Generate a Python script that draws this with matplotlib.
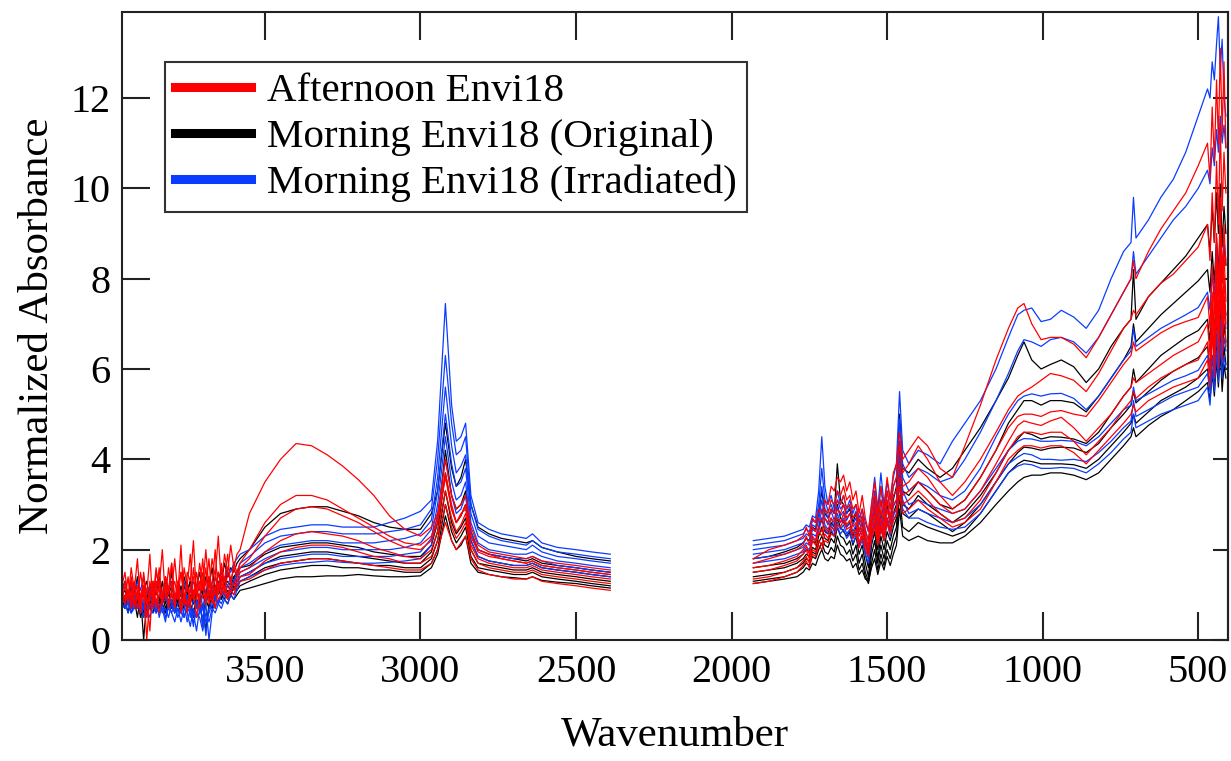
import matplotlib
matplotlib.use("Agg")
import matplotlib.pyplot as plt
from matplotlib.lines import Line2D

plt.rcParams["font.family"] = ["Liberation Serif", "DejaVu Serif"]

# sampled wavenumbers of the two windows (high range, then fingerprint range)
wn_hi = [3960, 3950, 3940, 3930, 3920, 3910, 3900, 3890, 3880, 3870,
         3860, 3850, 3840, 3830, 3820, 3810, 3800, 3790, 3780, 3770,
         3760, 3750, 3740, 3730, 3720, 3710, 3700, 3690, 3680, 3670,
         3660, 3650, 3640, 3630, 3620, 3610, 3600, 3590, 3580,
         3550, 3500, 3450, 3400, 3350, 3300, 3250, 3200, 3150, 3100,
         3050, 3000, 2965, 2945, 2920, 2900, 2885, 2870, 2855, 2838,
         2815, 2780, 2740, 2700, 2660, 2640, 2610, 2560, 2500, 2450, 2390]
wn_lo = [1930, 1880, 1830, 1790,
         1770, 1760, 1750, 1740, 1730, 1720, 1710, 1700, 1690, 1680,
         1670, 1660, 1650, 1640, 1630, 1620, 1610, 1600, 1590, 1580,
         1570, 1560, 1550, 1540, 1530, 1520, 1510, 1500, 1490, 1480,
         1470, 1460,
         1450, 1430, 1400, 1370, 1330, 1290, 1250, 1200, 1150, 1110,
         1080, 1060, 1035, 1005, 975, 940, 900, 860, 820, 780,
         740, 716, 708, 700, 660, 620, 580, 540, 500,
         470, 462, 455, 448, 441, 435, 429, 423, 417, 411]

# Afternoon Envi18
afternoon_hi = [
    [1.2, 1.5, 0.9, 1.6, 1.1, 1.8, 0.8, 1.4, 1.0, 1.9, 0.7, 1.5, 1.2, 2.0, 0.9, 1.6, 1.1, 1.8, 1.0, 2.1,
     0.8, 1.5, 1.3, 2.2, 1.0, 1.7, 1.2, 2.0, 1.1, 1.8, 1.4, 2.3, 1.2, 1.9, 1.5, 2.1, 1.6, 1.9, 2.0,
     2.8, 3.5, 4.0, 4.35, 4.3, 4.1, 3.85, 3.55, 3.2, 2.75, 2.45, 2.3,
     2.5, 2.8, 3.7, 3.0, 2.6, 2.8, 2.9, 2.3, 2.0,
     1.9, 1.8, 1.75, 1.7, 1.75, 1.65, 1.6, 1.55, 1.5, 1.45],
    [1.0, 1.3, 0.8, 1.4, 1.0, 1.2, 0.6, 1.5, 0.9, 0.2, 1.3, 1.0, 1.6, 0.8, 1.4, 1.1, 1.7, 0.9, 1.3, 0.7,
     1.6, 1.2, 1.9, 0.9, 1.5, 1.1, 1.8, 0.8, 1.4, 1.2, 2.0, 1.0, 1.6, 1.3, 1.9, 1.2, 1.7, 1.5, 1.7,
     2.0, 2.6, 3.0, 3.2, 3.2, 3.1, 2.9, 2.7, 2.5, 2.3, 2.15, 2.1,
     2.3, 2.7, 4.0, 3.2, 2.9, 3.0, 3.2, 2.5, 2.1,
     1.95, 1.9, 1.85, 1.8, 1.85, 1.75, 1.7, 1.65, 1.6, 1.55],
    [1.1, 0.9, 1.4, 0.7, 1.2, 0.9, 1.5, 1.0, 0.5, 1.3, 0.9, 1.6, 1.1, 0.8, 1.4, 1.0, 1.7, 0.8, 1.2, 1.5,
     0.9, 1.3, 0.7, 1.6, 1.1, 0.9, 1.5, 1.2, 1.8, 0.9, 1.4, 1.1, 1.7, 1.0, 1.5, 1.3, 1.6, 1.4, 1.6,
     1.8, 2.3, 2.7, 2.9, 2.95, 2.9, 2.75, 2.6, 2.4, 2.2, 2.05, 2.0,
     2.2, 2.6, 3.6, 2.9, 2.6, 2.75, 3.0, 2.3, 1.95,
     1.85, 1.8, 1.75, 1.7, 1.75, 1.65, 1.6, 1.55, 1.5, 1.45],
    [0.9, 1.2, 1.0, 1.3, 0.8, 1.1, 0.6, 1.2, 0.0, 1.0, 1.3, 0.8, 1.2, 1.0, 1.4, 0.7, 1.1, 1.3, 0.9, 1.5,
     1.0, 0.6, 1.2, 1.4, 0.9, 1.3, 1.1, 1.6, 0.8, 1.2, 1.0, 1.5, 1.1, 1.4, 0.9, 1.3, 1.2, 1.4, 1.5,
     1.6, 1.95, 2.2, 2.35, 2.4, 2.35, 2.3, 2.2, 2.05, 1.95, 1.85, 1.8,
     2.0, 2.4, 3.3, 2.7, 2.4, 2.55, 2.8, 2.1, 1.8,
     1.7, 1.65, 1.6, 1.6, 1.65, 1.55, 1.5, 1.45, 1.4, 1.35],
    [1.0, 0.8, 1.1, 0.9, 1.3, 0.7, 1.0, 1.2, 0.8, 1.1, 0.9, 1.3, 0.6, 1.0, 1.2, 0.8, 1.1, 0.7, 1.3, 1.0,
     0.8, 1.2, 0.9, 1.1, 0.5, 1.0, 1.2, 0.8, 1.3, 1.0, 0.7, 1.2, 1.0, 1.4, 0.9, 1.2, 1.1, 1.3, 1.4,
     1.45, 1.75, 1.95, 2.05, 2.1, 2.1, 2.05, 1.95, 1.85, 1.8, 1.7, 1.7,
     1.85, 2.2, 3.0, 2.5, 2.25, 2.4, 2.6, 2.0, 1.7,
     1.6, 1.55, 1.5, 1.5, 1.55, 1.45, 1.4, 1.35, 1.3, 1.25],
    [0.8, 1.0, 0.9, 1.1, 0.7, 1.0, 0.9, 1.2, 0.8, 1.0, 1.1, 0.7, 1.0, 0.9, 1.2, 0.8, 1.0, 0.9, 1.1, 0.6,
     1.0, 0.8, 1.1, 0.9, 1.2, 0.7, 1.0, 0.9, 1.1, 0.8, 1.2, 0.9, 1.0, 1.2, 0.9, 1.1, 1.0, 1.2, 1.3,
     1.35, 1.55, 1.7, 1.75, 1.8, 1.8, 1.75, 1.7, 1.65, 1.6, 1.55, 1.55,
     1.7, 2.0, 2.6, 2.2, 2.0, 2.15, 2.3, 1.8, 1.55,
     1.45, 1.4, 1.35, 1.35, 1.4, 1.3, 1.25, 1.2, 1.15, 1.1],
]
afternoon_lo = [
    [1.8, 2.0, 2.1, 2.2,
     2.3, 2.5, 2.3, 2.7, 2.6, 2.9, 2.8, 3.1, 3.0, 3.4, 3.3, 3.6, 3.5, 3.65, 3.3, 3.5,
     3.1, 3.3, 2.8, 3.2, 2.7, 2.4, 3.0, 3.5, 2.8, 3.4, 2.9, 3.6, 3.1, 3.7, 3.9, 4.6,
     4.0, 4.2, 4.5, 4.3, 3.8, 3.6, 4.3, 5.2, 6.2, 6.9,
     7.35, 7.45, 7.0, 6.65, 6.7, 6.7, 6.55, 6.25, 6.7, 7.2,
     7.7, 8.0, 8.4, 8.0, 8.6, 9.1, 9.5, 9.9, 10.5,
     11.0, 10.2, 11.8, 10.6, 12.4, 11.0, 13.1, 11.2, 12.8, 10.9],
    [1.7, 1.8, 1.9, 2.0,
     2.1, 2.3, 2.1, 2.5, 2.4, 2.7, 2.6, 2.9, 2.8, 3.1, 3.0, 3.3, 3.2, 3.4, 3.1, 3.2,
     2.9, 3.0, 2.6, 2.9, 2.4, 2.2, 2.8, 3.2, 2.6, 3.1, 2.7, 3.3, 2.9, 3.4, 3.6, 4.3,
     3.7, 3.9, 4.3, 4.0, 3.5, 3.2, 3.5, 4.0, 4.6, 5.1,
     5.4, 5.5, 5.6, 5.75, 5.9, 5.85, 5.75, 5.5, 5.9, 6.4,
     6.9, 7.1, 7.3, 7.2, 7.6, 7.9, 8.1, 8.4, 8.7,
     9.2, 8.4, 9.9, 8.8, 10.6, 9.2, 11.4, 9.5, 10.8, 9.9],
    [1.6, 1.65, 1.75, 1.85,
     2.0, 2.1, 1.9, 2.3, 2.2, 2.5, 2.4, 2.7, 2.6, 2.9, 2.8, 3.1, 3.0, 3.2, 2.9, 3.0,
     2.7, 2.8, 2.4, 2.7, 2.3, 2.1, 2.6, 3.0, 2.4, 2.9, 2.5, 3.1, 2.7, 3.2, 3.3, 3.9,
     3.4, 3.5, 3.8, 3.6, 3.2, 2.9, 3.1, 3.6, 4.2, 4.7,
     4.95, 5.0, 5.0, 4.95, 5.05, 5.08, 5.0, 4.95, 5.3, 5.7,
     6.1, 6.3, 6.6, 6.4, 6.6, 6.8, 6.95, 7.05, 7.14,
     7.6, 6.9, 8.3, 7.2, 9.0, 7.6, 9.8, 7.9, 9.2, 8.3],
    [1.5, 1.55, 1.65, 1.75,
     1.9, 2.0, 1.8, 2.2, 2.1, 2.4, 2.3, 2.5, 2.4, 2.7, 2.6, 2.9, 2.8, 3.0, 2.7, 2.8,
     2.5, 2.6, 2.3, 2.5, 2.2, 2.0, 2.5, 2.8, 2.3, 2.7, 2.4, 2.9, 2.6, 3.0, 3.1, 3.6,
     3.2, 3.3, 3.5, 3.3, 3.0, 2.8, 2.9, 3.3, 3.9, 4.4,
     4.75, 4.85, 4.8, 4.75, 4.85, 4.93, 4.7, 4.4, 4.7, 5.0,
     5.4, 5.6, 5.8, 5.7, 5.9, 6.1, 6.3, 6.45, 6.6,
     7.0, 6.3, 7.7, 6.6, 8.4, 6.9, 9.0, 7.2, 8.6, 7.5],
    [1.35, 1.4, 1.5, 1.6,
     1.75, 1.85, 1.7, 2.0, 1.95, 2.2, 2.1, 2.35, 2.25, 2.5, 2.45, 2.7, 2.6, 2.8, 2.55, 2.65,
     2.35, 2.45, 2.15, 2.4, 2.1, 1.9, 2.35, 2.65, 2.2, 2.55, 2.3, 2.7, 2.45, 2.8, 2.9, 3.4,
     3.0, 3.1, 3.3, 3.1, 2.8, 2.6, 2.7, 3.1, 3.7, 4.2,
     4.5, 4.6, 4.6, 4.55, 4.6, 4.6, 4.4, 4.1, 4.4, 4.7,
     5.1, 5.3, 5.5, 5.35, 5.6, 5.8, 5.95, 6.1, 6.2,
     6.6, 5.9, 7.3, 6.2, 8.0, 6.4, 8.6, 6.7, 8.1, 7.0],
    [1.25, 1.3, 1.4, 1.5,
     1.65, 1.75, 1.6, 1.9, 1.85, 2.1, 2.0, 2.2, 2.15, 2.35, 2.3, 2.55, 2.5, 2.65, 2.45, 2.5,
     2.25, 2.35, 2.05, 2.3, 2.0, 1.85, 2.25, 2.5, 2.1, 2.45, 2.2, 2.6, 2.35, 2.65, 2.75, 3.2,
     2.8, 2.9, 3.1, 2.9, 2.7, 2.5, 2.6, 2.9, 3.5, 4.0,
     4.2, 4.3, 4.3, 4.25, 4.3, 4.3, 4.15, 3.9, 4.2, 4.5,
     4.8, 5.0, 5.2, 5.05, 5.3, 5.45, 5.6, 5.7, 5.8,
     6.2, 5.6, 6.9, 5.8, 7.5, 6.0, 8.0, 6.2, 7.6, 6.5],
]

# Morning Envi18 (Original)
original_hi = [
    [1.1, 1.3, 0.9, 1.2, 1.0, 1.4, 0.8, 1.1, 1.3, 0.9, 1.2, 1.0, 1.4, 0.9, 1.3, 1.1, 1.5, 0.8, 1.2, 1.0,
     1.4, 1.1, 1.3, 0.9, 1.2, 1.5, 1.0, 1.4, 1.2, 1.6, 1.1, 1.5, 1.3, 1.7, 1.4, 1.6, 1.5, 1.7, 1.8,
     2.0, 2.5, 2.8, 2.9, 2.95, 2.95, 2.85, 2.75, 2.6, 2.5, 2.45, 2.45,
     2.8, 3.3, 4.8, 3.8, 3.4, 3.6, 4.0, 3.0, 2.5,
     2.35, 2.25, 2.2, 2.15, 2.2, 2.05, 1.95, 1.85, 1.8, 1.75],
    [1.0, 1.1, 0.8, 1.2, 0.9, 0.5, 1.0, 0.0, 0.9, 1.2, 0.8, 1.1, 0.9, 1.3, 0.8, 1.0, 1.2, 0.9, 1.1, 0.7,
     1.2, 1.0, 1.3, 0.8, 1.1, 0.9, 1.2, 1.0, 1.4, 0.9, 1.2, 1.1, 1.4, 1.2, 1.5, 1.3, 1.4, 1.5, 1.6,
     1.65, 1.9, 2.05, 2.1, 2.15, 2.15, 2.1, 2.05, 1.95, 1.9, 1.85, 1.85,
     2.1, 2.6, 4.2, 3.2, 2.9, 3.0, 3.3, 2.4, 2.0,
     1.9, 1.85, 1.8, 1.75, 1.8, 1.7, 1.65, 1.6, 1.55, 1.5],
    [0.9, 0.7, 1.0, 0.8, 1.1, 0.7, 0.9, 1.0, 0.6, 1.1, 0.8, 0.9, 0.7, 1.0, 0.9, 1.1, 0.7, 1.0, 0.8, 1.2,
     0.9, 0.7, 1.0, 0.8, 1.1, 0.9, 0.3, 1.0, 0.9, 1.2, 1.0, 1.3, 1.1, 1.2, 1.3, 1.2, 1.4, 1.3, 1.4,
     1.5, 1.7, 1.85, 1.9, 1.95, 1.95, 1.9, 1.85, 1.8, 1.75, 1.7, 1.7,
     1.95, 2.4, 3.7, 2.9, 2.6, 2.75, 3.0, 2.2, 1.85,
     1.75, 1.7, 1.65, 1.65, 1.7, 1.6, 1.55, 1.5, 1.45, 1.4],
    [0.8, 0.9, 0.6, 1.0, 0.7, 0.9, 0.5, 0.8, 1.0, 0.7, 0.9, 0.6, 0.8, 1.0, 0.7, 0.9, 0.8, 0.6, 0.9, 1.0,
     0.7, 0.9, 0.8, 1.1, 0.7, 0.9, 1.0, 0.8, 1.1, 0.9, 1.0, 1.2, 0.9, 1.1, 1.2, 1.1, 1.3, 1.2, 1.3,
     1.4, 1.6, 1.7, 1.75, 1.8, 1.8, 1.75, 1.7, 1.65, 1.65, 1.6, 1.6,
     1.8, 2.2, 3.3, 2.6, 2.35, 2.5, 2.7, 2.0, 1.7,
     1.65, 1.6, 1.55, 1.55, 1.6, 1.5, 1.45, 1.4, 1.35, 1.3],
    [0.9, 0.8, 0.9, 0.7, 0.9, 0.8, 1.0, 0.6, 0.9, 0.8, 1.0, 0.7, 0.9, 0.8, 0.6, 0.9, 0.7, 1.0, 0.8, 0.9,
     0.7, 1.0, 0.8, 0.5, 0.9, 0.8, 1.0, 0.9, 0.7, 1.0, 0.9, 1.1, 1.0, 0.9, 1.1, 1.0, 1.2, 1.1, 1.2,
     1.3, 1.45, 1.55, 1.6, 1.65, 1.65, 1.6, 1.6, 1.55, 1.55, 1.5, 1.5,
     1.7, 2.0, 3.0, 2.4, 2.15, 2.3, 2.5, 1.85, 1.6,
     1.55, 1.5, 1.45, 1.45, 1.5, 1.4, 1.35, 1.3, 1.25, 1.2],
    [0.8, 0.7, 0.9, 0.6, 0.8, 0.7, 0.9, 0.5, 0.8, 0.7, 0.6, 0.9, 0.7, 0.8, 0.6, 0.8, 0.9, 0.7, 0.8, 0.6,
     0.9, 0.7, 0.8, 0.6, 0.9, 0.7, 0.8, 0.2, 0.8, 0.7, 0.9, 0.8, 1.0, 0.9, 0.8, 1.0, 0.9, 1.0, 1.1,
     1.15, 1.25, 1.35, 1.4, 1.4, 1.42, 1.42, 1.45, 1.42, 1.4, 1.4, 1.42,
     1.6, 1.9, 2.75, 2.2, 2.0, 2.1, 2.3, 1.7, 1.5,
     1.45, 1.4, 1.38, 1.35, 1.4, 1.32, 1.28, 1.25, 1.2, 1.15],
]
original_lo = [
    [1.8, 1.85, 1.95, 2.05,
     2.15, 2.25, 2.2, 2.5, 2.45, 2.8, 3.3, 2.8, 2.7, 2.9, 2.8, 3.9, 3.1, 3.0, 2.8, 2.9,
     2.6, 2.8, 2.4, 2.6, 2.2, 1.9, 2.6, 2.9, 2.3, 2.8, 2.5, 3.0, 2.6, 3.1, 3.4, 5.0,
     3.8, 3.7, 4.0, 3.8, 3.6, 3.8, 4.2, 4.7, 5.3, 5.8,
     6.3, 6.6, 6.2, 6.0, 6.1, 6.2, 6.05, 5.7, 6.0, 6.5,
     6.9, 7.1, 8.2, 7.1, 7.6, 7.9, 8.2, 8.5, 8.9,
     9.2, 8.6, 9.6, 8.8, 9.9, 9.0, 10.1, 8.7, 9.6, 9.0],
    [1.6, 1.65, 1.7, 1.8,
     1.9, 2.0, 1.95, 2.2, 2.15, 2.5, 2.7, 2.4, 2.35, 2.6, 2.5, 3.0, 2.7, 2.6, 2.5, 2.6,
     2.3, 2.5, 2.1, 2.3, 1.9, 1.6, 2.3, 2.6, 2.0, 2.5, 2.2, 2.7, 2.4, 2.8, 3.0, 4.4,
     3.3, 3.2, 3.5, 3.3, 3.0, 2.9, 3.1, 3.6, 4.2, 4.8,
     5.1, 5.3, 5.3, 5.2, 5.3, 5.3, 5.25, 5.05, 5.4, 5.8,
     6.2, 6.5, 7.0, 6.6, 6.9, 7.2, 7.45, 7.7, 7.95,
     8.2, 7.7, 8.6, 7.9, 8.9, 8.1, 9.2, 7.9, 8.7, 8.3],
    [1.5, 1.55, 1.6, 1.7,
     1.8, 1.9, 1.85, 2.05, 2.0, 2.3, 2.5, 2.25, 2.2, 2.4, 2.3, 2.7, 2.5, 2.4, 2.3, 2.4,
     2.1, 2.3, 1.9, 2.1, 1.7, 1.4, 2.1, 2.4, 1.8, 2.3, 2.0, 2.4, 2.2, 2.5, 2.7, 3.8,
     3.0, 2.9, 3.2, 3.0, 2.8, 2.6, 2.8, 3.2, 3.7, 4.2,
     4.45, 4.6, 4.55, 4.45, 4.5, 4.49, 4.45, 4.35, 4.6, 5.0,
     5.4, 5.6, 6.0, 5.7, 6.0, 6.3, 6.5, 6.7, 6.85,
     7.1, 6.6, 7.5, 6.8, 7.8, 7.0, 8.0, 6.8, 7.6, 7.2],
    [1.4, 1.45, 1.5, 1.6,
     1.7, 1.8, 1.75, 1.95, 1.9, 2.15, 2.3, 2.1, 2.05, 2.25, 2.15, 2.5, 2.3, 2.25, 2.1, 2.2,
     1.9, 2.1, 1.7, 1.9, 1.5, 1.3, 1.9, 2.2, 1.7, 2.1, 1.8, 2.2, 2.0, 2.3, 2.5, 3.5,
     2.8, 2.7, 2.9, 2.8, 2.6, 2.4, 2.6, 3.0, 3.5, 3.9,
     4.15, 4.27, 4.25, 4.2, 4.25, 4.27, 4.25, 4.15, 4.35, 4.7,
     5.0, 5.2, 5.5, 5.25, 5.5, 5.75, 5.95, 6.1, 6.25,
     6.5, 6.0, 6.9, 6.2, 7.2, 6.4, 7.4, 6.2, 7.0, 6.6],
    [1.3, 1.35, 1.4, 1.5,
     1.6, 1.7, 1.65, 1.85, 1.8, 2.0, 2.15, 1.95, 1.9, 2.05, 1.95, 2.3, 2.1, 2.05, 1.9, 2.0,
     1.75, 1.9, 1.55, 1.7, 1.4, 1.25, 1.7, 2.0, 1.55, 1.9, 1.65, 2.0, 1.8, 2.1, 2.3, 3.2,
     2.5, 2.4, 2.6, 2.5, 2.4, 2.3, 2.4, 2.8, 3.3, 3.7,
     3.9, 3.98, 3.95, 3.9, 3.9, 3.9, 3.88, 3.8, 4.0, 4.3,
     4.6, 4.8, 5.0, 4.8, 5.05, 5.3, 5.45, 5.6, 5.8,
     6.0, 5.6, 6.3, 5.7, 6.7, 5.9, 6.9, 5.8, 6.5, 6.1],
    [1.25, 1.3, 1.35, 1.4,
     1.5, 1.6, 1.55, 1.7, 1.65, 1.85, 2.0, 1.8, 1.75, 1.85, 1.8, 2.1, 1.9, 1.85, 1.75, 1.8,
     1.6, 1.7, 1.45, 1.55, 1.35, 1.3, 1.6, 1.8, 1.45, 1.75, 1.55, 1.85, 1.65, 1.9, 2.1, 2.9,
     2.3, 2.2, 2.3, 2.2, 2.15, 2.15, 2.3, 2.6, 3.0, 3.3,
     3.5, 3.6, 3.65, 3.65, 3.7, 3.7, 3.65, 3.55, 3.7, 4.0,
     4.3, 4.5, 4.7, 4.5, 4.75, 4.95, 5.1, 5.3, 5.5,
     5.7, 5.3, 5.9, 5.4, 6.2, 5.6, 6.4, 5.5, 6.1, 5.8],
]

# Morning Envi18 (Irradiated)
irradiated_hi = [
    [1.1, 1.3, 1.0, 1.2, 0.9, 1.3, 1.1, 1.4, 1.0, 1.2, 0.8, 1.3, 1.1, 1.0, 1.4, 1.1, 1.3, 0.9, 1.2, 1.0,
     1.3, 0.8, 1.1, 1.3, 1.0, 1.2, 0.7, 1.1, 1.3, 1.0, 1.4, 1.2, 1.5, 1.3, 1.6, 1.5, 1.7, 1.8, 1.9,
     2.0, 2.3, 2.45, 2.5, 2.55, 2.55, 2.5, 2.5, 2.5, 2.6, 2.7, 2.85,
     3.1, 4.4, 7.45, 5.2, 4.4, 4.5, 4.8, 3.2, 2.6,
     2.45, 2.35, 2.3, 2.25, 2.35, 2.15, 2.05, 2.0, 1.95, 1.9],
    [1.0, 0.9, 1.1, 0.8, 1.2, 0.9, 1.0, 0.7, 1.1, 0.9, 1.2, 0.6, 1.0, 0.9, 1.1, 0.7, 1.0, 0.8, 1.1, 0.6,
     0.9, 1.0, 0.5, 0.9, 0.7, 1.0, 0.3, 0.8, 1.0, 1.1, 0.9, 1.2, 1.1, 1.3, 1.2, 1.4, 1.3, 1.5, 1.7,
     1.85, 2.15, 2.3, 2.35, 2.4, 2.4, 2.35, 2.35, 2.35, 2.4, 2.45, 2.55,
     2.9, 4.0, 6.3, 4.8, 4.1, 4.2, 4.5, 3.0, 2.45,
     2.3, 2.2, 2.15, 2.1, 2.2, 2.05, 1.95, 1.9, 1.85, 1.8],
    [0.9, 0.8, 1.0, 0.7, 0.9, 1.0, 0.6, 0.9, 0.8, 1.0, 0.7, 0.9, 0.5, 0.8, 1.0, 0.7, 0.9, 0.6, 0.8, 0.9,
     0.5, 0.8, 0.7, 0.3, 0.9, 0.6, 0.8, 0.1, 0.7, 0.9, 1.0, 0.8, 1.1, 1.0, 1.2, 1.1, 1.3, 1.4, 1.6,
     1.7, 1.95, 2.1, 2.15, 2.2, 2.2, 2.15, 2.15, 2.15, 2.2, 2.25, 2.35,
     2.65, 3.6, 5.6, 4.3, 3.7, 3.85, 4.1, 2.8, 2.3,
     2.15, 2.1, 2.05, 2.0, 2.1, 1.95, 1.85, 1.8, 1.75, 1.7],
    [0.8, 0.7, 0.9, 0.6, 0.8, 0.7, 0.9, 0.5, 0.8, 0.7, 0.9, 0.6, 0.8, 0.7, 0.4, 0.8, 0.6, 0.8, 0.5, 0.7,
     0.8, 0.4, 0.7, 0.6, 0.2, 0.7, 0.5, 0.8, 0.0, 0.6, 0.9, 0.8, 1.0, 1.1, 1.0, 1.2, 1.1, 1.3, 1.5,
     1.6, 1.8, 1.95, 2.0, 2.05, 2.05, 2.0, 2.0, 2.0, 2.0, 2.05, 2.15,
     2.45, 3.3, 5.0, 3.9, 3.4, 3.5, 3.8, 2.6, 2.15,
     2.0, 1.95, 1.9, 1.9, 1.95, 1.85, 1.75, 1.7, 1.65, 1.6],
    [0.7, 0.8, 0.6, 0.8, 0.7, 0.8, 0.6, 0.8, 0.7, 0.5, 0.8, 0.7, 0.8, 0.6, 0.7, 0.5, 0.8, 0.6, 0.7, 0.4,
     0.7, 0.6, 0.3, 0.7, 0.5, 0.6, 0.7, 0.4, 0.6, 0.8, 0.7, 0.9, 0.8, 1.0, 0.9, 1.1, 1.0, 1.2, 1.4,
     1.5, 1.7, 1.8, 1.85, 1.9, 1.9, 1.85, 1.85, 1.85, 1.85, 1.9, 1.95,
     2.25, 3.0, 4.5, 3.5, 3.1, 3.2, 3.5, 2.4, 2.0,
     1.9, 1.85, 1.8, 1.8, 1.85, 1.75, 1.65, 1.6, 1.55, 1.5],
    [0.8, 0.7, 0.8, 0.6, 0.7, 0.8, 0.6, 0.7, 0.5, 0.8, 0.6, 0.7, 0.6, 0.8, 0.5, 0.7, 0.6, 0.4, 0.7, 0.6,
     0.5, 0.7, 0.6, 0.4, 0.6, 0.5, 0.2, 0.6, 0.4, 0.7, 0.6, 0.8, 0.7, 0.9, 0.8, 1.0, 0.9, 1.1, 1.3,
     1.4, 1.55, 1.65, 1.7, 1.72, 1.75, 1.72, 1.7, 1.7, 1.72, 1.75, 1.8,
     2.1, 2.8, 4.0, 3.2, 2.8, 2.9, 3.2, 2.2, 1.85,
     1.75, 1.7, 1.65, 1.65, 1.7, 1.6, 1.55, 1.5, 1.45, 1.4],
]
irradiated_lo = [
    [2.2, 2.25, 2.3, 2.4,
     2.45, 2.55, 2.5, 2.75, 2.7, 3.3, 4.5, 3.4, 3.0, 3.2, 2.9, 3.3, 3.0, 3.2, 2.9, 3.1,
     2.8, 3.0, 2.7, 2.9, 2.6, 2.4, 3.0, 3.6, 2.9, 3.7, 3.0, 3.5, 3.1, 3.6, 3.9, 5.5,
     4.2, 3.9, 4.2, 4.1, 3.9, 4.4, 4.8, 5.3, 6.0, 6.7,
     7.2, 7.3, 7.35, 7.05, 7.1, 7.3, 7.15, 6.9, 7.3, 8.0,
     8.6, 8.8, 9.8, 8.9, 9.3, 9.8, 10.2, 10.8, 11.6,
     12.2, 12.0, 12.8, 12.4, 13.2, 13.8, 12.6, 13.3, 12.0, 11.6],
    [2.1, 2.15, 2.2, 2.3,
     2.35, 2.45, 2.4, 2.65, 2.6, 3.0, 3.8, 3.1, 2.85, 3.0, 2.8, 3.1, 2.9, 3.0, 2.8, 2.95,
     2.7, 2.85, 2.55, 2.75, 2.45, 2.2, 2.8, 3.3, 2.7, 3.4, 2.8, 3.3, 2.9, 3.4, 3.6, 4.9,
     3.9, 3.6, 3.8, 3.7, 3.5, 3.6, 4.0, 4.6, 5.3, 5.9,
     6.4, 6.65, 6.6, 6.5, 6.65, 6.7, 6.6, 6.35, 6.7, 7.2,
     7.7, 8.0, 8.6, 8.1, 8.5, 8.9, 9.3, 9.6, 10.0,
     10.4, 10.1, 10.9, 10.5, 11.3, 10.8, 11.6, 11.0, 11.4, 10.9],
    [2.0, 2.05, 2.1, 2.2,
     2.25, 2.35, 2.3, 2.55, 2.5, 2.8, 3.4, 2.9, 2.7, 2.85, 2.65, 2.95, 2.75, 2.85, 2.65, 2.8,
     2.55, 2.7, 2.4, 2.6, 2.3, 2.05, 2.6, 3.1, 2.5, 3.1, 2.6, 3.1, 2.7, 3.2, 3.3, 4.4,
     3.6, 3.3, 3.5, 3.4, 3.2, 3.1, 3.3, 3.8, 4.5, 5.0,
     5.3, 5.4, 5.45, 5.4, 5.45, 5.46, 5.35, 5.1, 5.4, 5.8,
     6.2, 6.4, 6.9, 6.5, 6.7, 6.9, 7.05, 7.2, 7.36,
     7.7, 7.3, 8.2, 7.6, 8.7, 7.9, 9.1, 8.2, 8.8, 8.4],
    [1.9, 1.95, 2.0, 2.1,
     2.15, 2.25, 2.2, 2.45, 2.4, 2.65, 3.1, 2.7, 2.55, 2.7, 2.5, 2.8, 2.6, 2.7, 2.5, 2.6,
     2.4, 2.55, 2.3, 2.45, 2.15, 1.9, 2.45, 2.9, 2.35, 2.85, 2.45, 2.9, 2.55, 2.95, 3.1, 4.1,
     3.3, 3.0, 3.1, 3.0, 2.9, 2.8, 2.9, 3.3, 3.8, 4.2,
     4.4, 4.46, 4.45, 4.4, 4.4, 4.42, 4.4, 4.3, 4.5, 4.8,
     5.1, 5.2, 5.6, 5.3, 5.45, 5.6, 5.75, 5.85, 5.97,
     6.3, 5.9, 6.8, 6.2, 7.4, 6.5, 7.7, 6.7, 7.3, 6.9],
    [1.8, 1.85, 1.9, 2.0,
     2.05, 2.15, 2.1, 2.35, 2.3, 2.5, 2.9, 2.55, 2.45, 2.55, 2.4, 2.6, 2.45, 2.55, 2.35, 2.45,
     2.25, 2.4, 2.15, 2.3, 2.0, 1.8, 2.3, 2.7, 2.2, 2.65, 2.3, 2.7, 2.4, 2.75, 2.9, 3.8,
     3.1, 2.8, 2.9, 2.8, 2.7, 2.6, 2.7, 3.0, 3.5, 3.9,
     4.05, 4.13, 4.1, 4.0, 4.0, 3.98, 4.0, 3.95, 4.15, 4.4,
     4.7, 4.85, 5.3, 4.95, 5.1, 5.25, 5.4, 5.5, 5.6,
     5.9, 5.5, 6.3, 5.8, 6.8, 6.0, 7.1, 6.2, 6.7, 6.4],
    [1.7, 1.75, 1.8, 1.9,
     1.95, 2.05, 2.0, 2.25, 2.2, 2.4, 2.7, 2.45, 2.35, 2.45, 2.3, 2.5, 2.35, 2.45, 2.25, 2.35,
     2.15, 2.3, 2.05, 2.2, 1.9, 1.7, 2.2, 2.6, 2.1, 2.55, 2.2, 2.6, 2.3, 2.65, 2.8, 3.6,
     2.9, 2.7, 2.7, 2.6, 2.5, 2.45, 2.5, 2.8, 3.3, 3.7,
     3.85, 3.9, 3.88, 3.8, 3.8, 3.82, 3.8, 3.7, 3.9, 4.15,
     4.45, 4.6, 5.0, 4.7, 4.85, 5.0, 5.1, 5.2, 5.3,
     5.6, 5.2, 6.0, 5.5, 6.4, 5.7, 6.6, 5.8, 6.3, 6.0],
]

red = "#ff0000"
black = "#000000"
blue = "#0a3cff"

# black drawn first, red last so it sits on top
groups = [
    (black, original_hi, original_lo),
    (blue, irradiated_hi, irradiated_lo),
    (red, afternoon_hi, afternoon_lo),
]

fig = plt.figure(figsize=(12.31, 7.61), dpi=100)
ax = fig.add_axes([0.099, 0.159, 0.8986, 0.825])

for col, hi, lo in groups:
    for row in hi:
        ax.plot(wn_hi, row, color=col, lw=0.9)
    for row in lo:
        ax.plot(wn_lo, row, color=col, lw=0.9)

ax.set_xlim(3960, 404)
ax.set_ylim(0, 13.9)
ax.set_xticks([3500, 3000, 2500, 2000, 1500, 1000, 500])
ax.set_yticks([0, 2, 4, 6, 8, 10, 12])
ax.tick_params(axis="both", direction="in", length=20, width=1.5,
               colors="#222222", labelcolor="black", labelsize=29)
ax.tick_params(axis="x", top=True, pad=10)
ax.tick_params(axis="y", pad=8)
sec = ax.secondary_yaxis("right")
sec.set_yticks([0, 2, 4, 6, 8, 10, 12])
sec.tick_params(direction="in", length=11, width=1.5, colors="#222222",
                labelright=False)
for s in list(ax.spines.values()) + list(sec.spines.values()):
    s.set_linewidth(1.5)
    s.set_color("#222222")

ax.set_xlabel("Wavenumber", fontsize=31, labelpad=18)
ax.set_ylabel("Normalized Absorbance", fontsize=31, labelpad=10)

handles = [Line2D([], [], color=red, lw=6.5),
           Line2D([], [], color=black, lw=6.5),
           Line2D([], [], color=blue, lw=6.5)]
labels = ["Afternoon Envi18", "Morning Envi18 (Original)",
          "Morning Envi18 (Irradiated)"]
leg = ax.legend(handles, labels, loc="upper left",
                bbox_to_anchor=(0.039, 0.92), borderaxespad=0,
                fontsize=29.5, frameon=True, fancybox=False,
                edgecolor="black", handlelength=1.85, handletextpad=0.4,
                labelspacing=0.2, borderpad=0.25)
leg.get_frame().set_linewidth(1.5)

fig.savefig("out.png", dpi=100)
